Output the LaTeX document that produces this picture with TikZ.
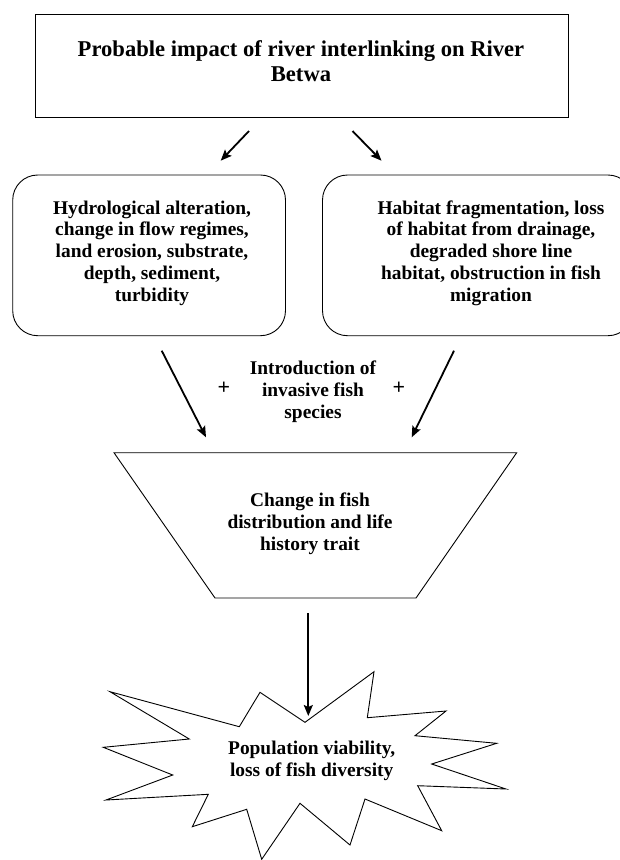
\documentclass[tikz,border=0pt]{standalone}
\usepackage{fontspec}
\setmainfont{Liberation Serif}
\usetikzlibrary{arrows.meta}
\begin{document}
\begin{tikzpicture}[x=1pt,y=-1pt,
  box/.style={draw=black,line width=0.9pt},
  bodytext/.style={align=center,font=\fontsize{19.4}{21.8}\selectfont\bfseries,inner sep=0pt},
  titletext/.style={align=center,font=\fontsize{22.6}{25}\selectfont\bfseries,inner sep=0pt},
  plustext/.style={font=\fontsize{22}{24}\selectfont\bfseries,inner sep=0pt},
  arr/.style={line width=1.8pt,-{Stealth[length=11pt,width=9pt,inset=2pt]}},
]
\clip (0,0) rectangle (620,860);
\fill[white] (0,0) rectangle (620,860);
% title box
\draw[box] (35,14.5) rectangle (568,117);
\node[titletext] (title) at (301,61) {Probable impact of river interlinking on River\\Betwa};
% rounded boxes
\draw[box,rounded corners=25pt] (12.7,175) rectangle (285.5,335.7);
\draw[box,rounded corners=25pt] (322.5,175) rectangle (633,335.7);
\node[bodytext] (hyd) at (152,253) {Hydrological alteration,\\change in flow regimes,\\land erosion, substrate,\\depth, sediment,\\turbidity};
\node[bodytext] (hab) at (491,253) {Habitat fragmentation, loss\\of habitat from drainage,\\degraded shore line\\habitat, obstruction in fish\\migration};
% arrows from title
\coordinate (t1) at (249,131);
\coordinate (h1) at (220.7,160.7);
\coordinate (t2) at (352.5,131);
\coordinate (h2) at (381.5,160.7);
\draw[arr] (t1) -- (h1);
\draw[arr] (t2) -- (h2);
% middle
\node[bodytext] (intro) at (313,391.5) {Introduction of\\invasive fish\\species};
\node[plustext] (plus1) at (224,388) {+};
\node[plustext] (plus2) at (399,388) {+};
\coordinate (a1) at (161.7,350.7);
\coordinate (b1) at (206,437.3);
\coordinate (a2) at (454,350.7);
\coordinate (b2) at (411.7,437.3);
\draw[arr] (a1) -- (b1);
\draw[arr] (a2) -- (b2);
% trapezoid
\draw[box,line join=miter] (114,452.7) -- (516.7,452.7) -- (416,598) -- (215,598) -- cycle;
\node[bodytext] (change) at (310,523.5) {Change in fish\\distribution and life\\history trait};
% vertical arrow
\coordinate (v1) at (308.3,613.3);
\coordinate (v2) at (308.3,716);
\draw[arr] (v1) -- (v2);
% starburst
\draw[box,line join=miter,fill=white] (110,691.7) -- (239.3,726.7) -- (260,692.3) -- (305,722.3) -- (374,671.7) -- (367.3,717.7) -- (446,711) -- (415,735.7) -- (496.7,743.3) -- (431.7,764) -- (506,789) -- (417.7,785.7) -- (441.7,830.7) -- (365,799) -- (350,845) -- (300,803.3) -- (261.7,859.3) -- (246.7,809.3) -- (192.3,826.7) -- (208.3,794.3) -- (106,800) -- (172.7,775) -- (103.3,747.3) -- (189.3,739) -- cycle;
\node[bodytext] (pop) at (311.7,760.5) {Population viability,\\loss of fish diversity};
\end{tikzpicture}
\end{document}
